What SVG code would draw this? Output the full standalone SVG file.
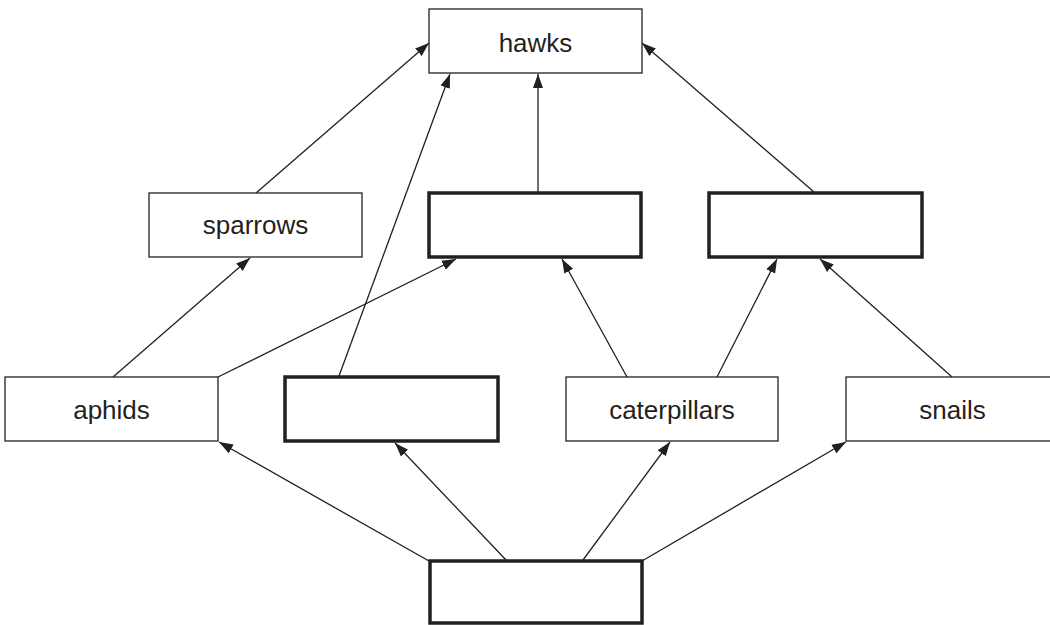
<svg xmlns="http://www.w3.org/2000/svg" width="1050" height="625" viewBox="0 0 1050 625">
<style>
.thin{fill:#fff;stroke:#231f20;stroke-width:1.3}
.bold{fill:#fff;stroke:#231f20;stroke-width:3.5}
.lbl{font-family:"Liberation Sans",Arial,sans-serif;font-size:26px;fill:#231f20;text-anchor:middle}
.edge{stroke:#231f20;stroke-width:1.3;fill:none;marker-end:url(#ah)}
</style>
<defs>
<marker id="ah" markerUnits="userSpaceOnUse" markerWidth="16" markerHeight="12" refX="14" refY="5.5" orient="auto">
<path d="M0,0.5 L14,5.5 L0,10.5 z" fill="#231f20"/>
</marker>
</defs>
<rect width="1050" height="625" fill="#fff"/>
<g id="connectors">
<line class="edge" x1="256" y1="193" x2="429" y2="43"/>
<line class="edge" x1="339" y1="376" x2="450" y2="74"/>
<line class="edge" x1="538" y1="192" x2="538" y2="74"/>
<line class="edge" x1="814" y1="192" x2="642" y2="43"/>
<line class="edge" x1="113" y1="377" x2="250" y2="258"/>
<line class="edge" x1="218" y1="377" x2="456" y2="259"/>
<line class="edge" x1="627" y1="377" x2="562" y2="259"/>
<line class="edge" x1="717" y1="377" x2="777" y2="259"/>
<line class="edge" x1="952" y1="377" x2="820" y2="259"/>
<line class="edge" x1="429" y1="561" x2="219" y2="442"/>
<line class="edge" x1="506" y1="560" x2="395" y2="443"/>
<line class="edge" x1="583" y1="560" x2="670" y2="442"/>
<line class="edge" x1="642" y1="561" x2="846" y2="442"/>
</g>
<g id="hawks"><rect class="thin" x="429" y="9" width="213" height="64"/><text class="lbl" x="535.5" y="52">hawks</text></g>
<g id="sparrows"><rect class="thin" x="149" y="193" width="213" height="64"/><text class="lbl" x="255.5" y="234">sparrows</text></g>
<g id="blank1"><rect class="bold" x="429" y="193" width="212" height="64"/></g>
<g id="blank2"><rect class="bold" x="709" y="193" width="213" height="64"/></g>
<g id="aphids"><rect class="thin" x="5" y="377" width="213" height="64"/><text class="lbl" x="111.5" y="419">aphids</text></g>
<g id="blank3"><rect class="bold" x="285" y="377" width="213" height="64"/></g>
<g id="caterpillars"><rect class="thin" x="566" y="377" width="212" height="64"/><text class="lbl" x="672" y="419">caterpillars</text></g>
<g id="snails"><rect class="thin" x="846" y="377" width="213" height="64"/><text class="lbl" x="952.5" y="419">snails</text></g>
<g id="blank4"><rect class="bold" x="430" y="561" width="212" height="62"/></g>
</svg>
